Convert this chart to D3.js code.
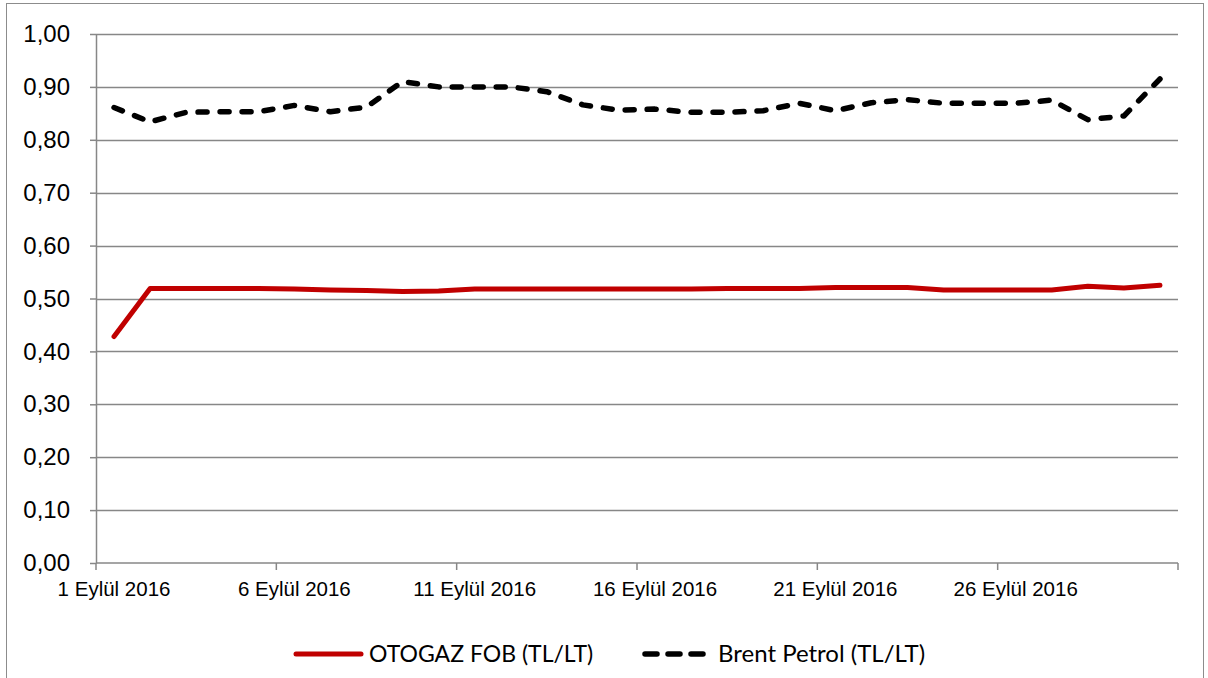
<!DOCTYPE html>
<html>
<head>
<meta charset="utf-8">
<script src="https://cdn.jsdelivr.net/npm/d3@7"></script>
<style>
  body { margin: 0; background: #fff; }
  svg { display: block; font-family: Lato, "Noto Sans", sans-serif; }
</style>
</head>
<body>
<div id="chart"></div>
<script>
// days of September 2016
const days = d3.range(1, 31);
const dayLabels = days.map(d => d + " Eylül 2016");

// OTOGAZ FOB (TL/LT)
const otogaz = [0.428, 0.519, 0.519, 0.519, 0.519, 0.518, 0.516, 0.515, 0.513, 0.514,
                0.518, 0.518, 0.518, 0.518, 0.518, 0.518, 0.518, 0.519, 0.519, 0.519,
                0.521, 0.521, 0.521, 0.516, 0.516, 0.516, 0.516, 0.523, 0.520, 0.525];

// Brent Petrol (TL/LT)
const brent = [0.861, 0.834, 0.852, 0.853, 0.853, 0.865, 0.853, 0.862, 0.910, 0.900,
               0.900, 0.900, 0.891, 0.866, 0.856, 0.858, 0.852, 0.852, 0.855, 0.869,
               0.855, 0.870, 0.876, 0.869, 0.869, 0.869, 0.875, 0.838, 0.845, 0.915];

const yTicks = d3.range(0, 1.0001, 0.1);
const seriesNames = ["OTOGAZ FOB (TL/LT)", "Brent Petrol (TL/LT)"];

const W = 1208, H = 678;
const plot = { left: 96, right: 1178, top: 34, bottom: 563 };
const gridColor = "#878787";

const svg = d3.select("#chart").append("svg")
    .attr("width", W)
    .attr("height", H);

// outer chart frame
svg.append("rect")
    .attr("x", 6.5).attr("y", 3.5)
    .attr("width", 1197).attr("height", 700)
    .attr("fill", "none")
    .attr("stroke", "#8c8c8c")
    .attr("stroke-width", 1);

const x = d3.scaleBand()
    .domain(days)
    .range([plot.left, plot.right])
    .paddingInner(0).paddingOuter(0);

const y = d3.scaleLinear()
    .domain([0, 1])
    .range([plot.bottom, plot.top]);

const trLocale = d3.formatLocale({ decimal: ",", thousands: ".", grouping: [3], currency: ["", " TL"] });
const fmt = trLocale.format(".2f");

// horizontal gridlines
svg.append("g")
    .selectAll("line")
    .data(yTicks.filter(v => v > 0))
    .enter()
    .append("line")
    .attr("x1", plot.left).attr("x2", plot.right)
    .attr("y1", d => Math.round(y(d)) + 0.5)
    .attr("y2", d => Math.round(y(d)) + 0.5)
    .attr("stroke", gridColor)
    .attr("stroke-width", 1.5);

// y axis
const yAxis = svg.append("g")
    .attr("transform", `translate(${plot.left},0)`)
    .call(d3.axisLeft(y).tickValues(yTicks).tickFormat(fmt).tickSize(6).tickPadding(20).tickSizeOuter(0));
yAxis.select(".domain").attr("stroke", gridColor).attr("stroke-width", 1.5);
yAxis.selectAll(".tick line").attr("stroke", gridColor).attr("stroke-width", 1.5);
yAxis.selectAll("text")
    .attr("fill", "#000")
    .style("font-size", "24px");

// x axis line and tick marks (at category boundaries, every 5 days)
svg.append("line")
    .attr("x1", plot.left).attr("x2", plot.right)
    .attr("y1", plot.bottom).attr("y2", plot.bottom)
    .attr("stroke", gridColor).attr("stroke-width", 1.5);

const tickDays = days.filter(d => (d - 1) % 5 === 0);
svg.append("g")
    .selectAll("line")
    .data(tickDays.concat([31]))
    .enter()
    .append("line")
    .attr("x1", d => d === 31 ? plot.right : x(d))
    .attr("x2", d => d === 31 ? plot.right : x(d))
    .attr("y1", plot.bottom)
    .attr("y2", plot.bottom + 7)
    .attr("stroke", gridColor)
    .attr("stroke-width", 1.5);

// x labels (centred on category)
const xAxis = svg.append("g")
    .attr("transform", `translate(0,${plot.bottom})`)
    .call(d3.axisBottom(x).tickValues(tickDays).tickFormat(d => dayLabels[d - 1]).tickSize(0).tickPadding(18));
xAxis.select(".domain").remove();
xAxis.selectAll("text")
    .attr("fill", "#000")
    .style("font-size", "20.5px");

const cx = d => x(d) + x.bandwidth() / 2;

const line = d3.line()
    .x((v, i) => cx(days[i]))
    .y(v => y(v));

svg.append("path")
    .datum(otogaz)
    .attr("d", line)
    .attr("fill", "none")
    .attr("stroke", "#c00000")
    .attr("stroke-width", 5)
    .attr("stroke-linecap", "round")
    .attr("stroke-linejoin", "round");

svg.append("path")
    .datum(brent)
    .attr("d", line)
    .attr("fill", "none")
    .attr("stroke", "#000")
    .attr("stroke-width", 5.5)
    .attr("stroke-dasharray", "9,13")
    .attr("stroke-linecap", "round")
    .attr("stroke-linejoin", "round");

// legend
const legendY = 654;
const legend = svg.append("g");
legend.append("line")
    .attr("x1", 296).attr("x2", 361)
    .attr("y1", legendY).attr("y2", legendY)
    .attr("stroke", "#c00000").attr("stroke-width", 5)
    .attr("stroke-linecap", "round");
legend.append("text")
    .attr("x", 369).attr("y", legendY)
    .attr("dy", "0.35em")
    .style("font-size", "23px")
    .text(seriesNames[0]);
legend.append("line")
    .attr("x1", 645).attr("x2", 704)
    .attr("y1", legendY).attr("y2", legendY)
    .attr("stroke", "#000").attr("stroke-width", 5.5)
    .attr("stroke-dasharray", "12,11")
    .attr("stroke-linecap", "round");
legend.append("text")
    .attr("x", 718).attr("y", legendY)
    .attr("dy", "0.35em")
    .style("font-size", "24px")
    .text(seriesNames[1]);
</script>
</body>
</html>
